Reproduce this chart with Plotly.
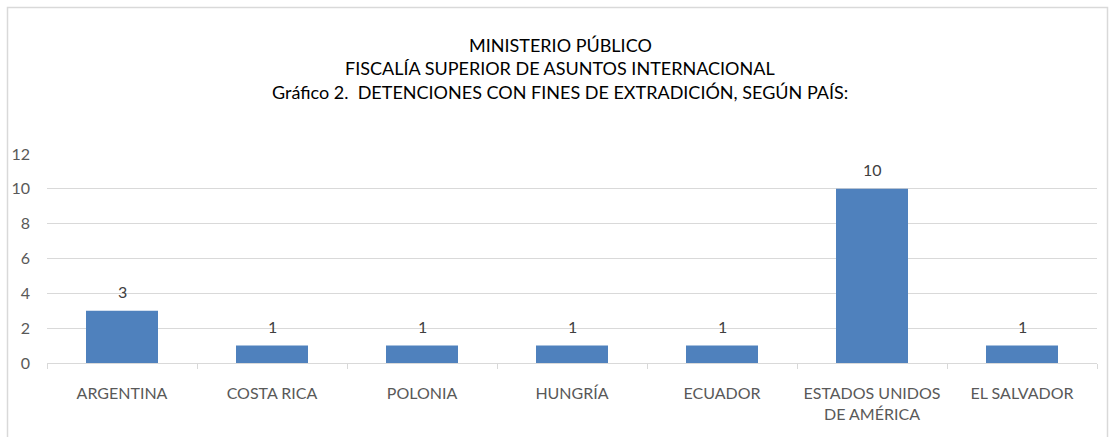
import plotly.graph_objects as go

categories = ["ARGENTINA", "COSTA RICA", "POLONIA", "HUNGRÍA", "ECUADOR",
              "ESTADOS UNIDOS<br>DE AMÉRICA", "EL SALVADOR"]
values = [3, 1, 1, 1, 1, 10, 1]
y_ticks = [0, 2, 4, 6, 8, 10, 12]
title_lines = ["MINISTERIO PÚBLICO",
               "FISCALÍA SUPERIOR DE ASUNTOS INTERNACIONAL",
               "Gráfico 2.  DETENCIONES CON FINES DE EXTRADICIÓN, SEGÚN PAÍS:"]

W, H = 1115, 437
ml, mr, mt, mb = 47, 18, 154, 74
pw, ph = W - ml - mr, H - mt - mb

def px_x(x):
    return (x - ml) / pw

def px_y(y):
    return (H - mb - y) / ph

FONT = "Lato"

fig = go.Figure()
fig.add_trace(go.Bar(
    x=categories, y=values,
    marker=dict(color="#4f81bd", line=dict(width=0)),
    width=0.48,
))

annotations = []
for c, v in zip(categories, values):
    annotations.append(dict(x=c, y=v, xref="x", yref="y", text=str(v),
                            showarrow=False, yanchor="bottom", yshift=8,
                            font=dict(family=FONT, size=16, color="#404040")))
for line, ypx in zip(title_lines, [45, 68, 92]):
    annotations.append(dict(x=px_x(560), y=px_y(ypx), xref="paper", yref="paper",
                            text=line, showarrow=False, xanchor="center", yanchor="middle",
                            font=dict(family=FONT, size=18, color="#000000")))

fig.update_layout(
    width=W, height=H,
    margin=dict(l=ml, r=mr, t=mt, b=mb, pad=0),
    paper_bgcolor="white", plot_bgcolor="white",
    showlegend=False,
    hovermode=False,
    annotations=annotations,
    shapes=[dict(type="rect", xref="paper", yref="paper",
                 x0=px_x(7.5), x1=px_x(1107.5), y0=px_y(440), y1=px_y(7.5),
                 line=dict(color="#d9d9d9", width=1.5), fillcolor="rgba(0,0,0,0)", layer="below")],
    xaxis=dict(
        showgrid=False, showline=True, linecolor="#d9d9d9", linewidth=1,
        ticks="outside", ticklen=5, tickcolor="#d9d9d9", tickmode="linear",
        tickson="boundaries", ticklabelstandoff=16,
        tickfont=dict(family=FONT, size=16, color="#595959"),
        fixedrange=True,
    ),
    yaxis=dict(
        range=[0, 12], tickvals=y_ticks, showgrid=True, gridcolor="#d9d9d9", gridwidth=1,
        zeroline=False, showline=False, ticks="", ticklabelstandoff=16,
        tickfont=dict(family=FONT, size=16, color="#595959"),
        fixedrange=True,
    ),
)

fig.write_html("out.html", config={"displayModeBar": False},
               post_script="document.body.style.margin='0';document.body.style.overflow='hidden';")
